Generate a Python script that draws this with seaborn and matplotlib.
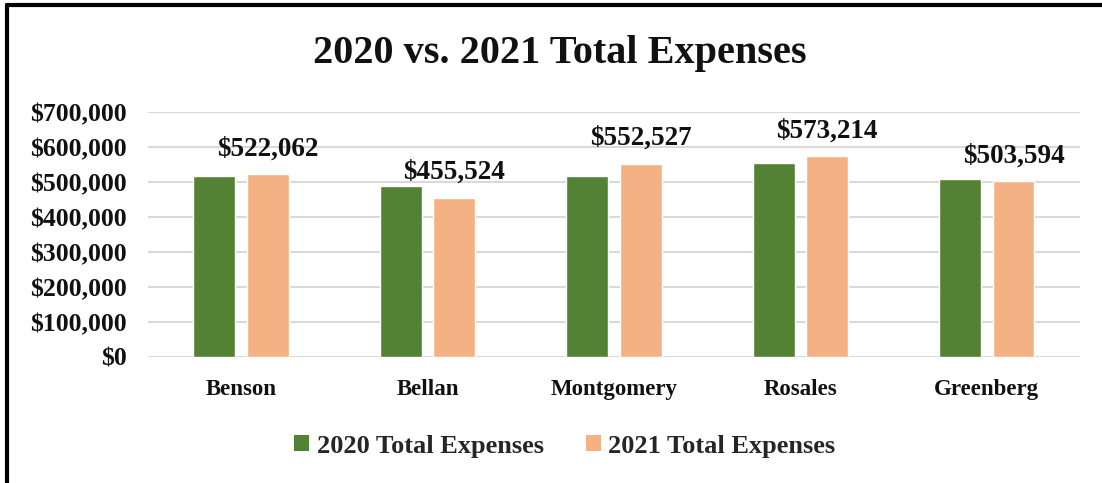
import pandas as pd
import matplotlib.pyplot as plt
import matplotlib.ticker as mticker
from matplotlib.patches import Patch
from matplotlib.lines import Line2D
import seaborn as sns

# Data
names = ['Benson', 'Bellan', 'Montgomery', 'Rosales', 'Greenberg']
expenses_2020 = [517000, 489000, 517000, 553000, 508000]
expenses_2021 = [522062, 455524, 552527, 573214, 503594]
series = ['2020 Total Expenses', '2021 Total Expenses']
colors = {'2020 Total Expenses': '#548235', '2021 Total Expenses': '#F4B183'}

df = pd.DataFrame({
    'Name': names * 2,
    'Expenses': expenses_2020 + expenses_2021,
    'Series': [series[0]] * len(names) + [series[1]] * len(names),
})

sns.set_theme(style='white')
plt.rcParams['font.family'] = ['Liberation Serif', 'DejaVu Serif']
plt.rcParams['font.weight'] = 'bold'

fig = plt.figure(figsize=(11.02, 4.83), dpi=100)
ax = fig.add_axes([0.1343, 0.2609, 0.8457, 0.5072])

sns.barplot(data=df, x='Name', y='Expenses', hue='Series', hue_order=series,
            palette=colors, width=0.574, gap=0.216, errorbar=None,
            saturation=1, legend=False, ax=ax)

# labels only on the 2021 series
ax.bar_label(ax.containers[1], labels=[f'${v:,.0f}' for v in expenses_2021],
             padding=9, fontsize=19.5, fontweight='bold', color='#111111')

ax.set_ylim(0, 700000)
ax.set_xlim(-0.5, len(names) - 0.5)
ax.yaxis.set_major_locator(mticker.MultipleLocator(100000))
ax.yaxis.set_major_formatter(mticker.StrMethodFormatter('${x:,.0f}'))
ax.grid(axis='y', color='#D9D9D9', linewidth=1.5)
ax.set_axisbelow(True)
for s in ax.spines.values():
    s.set_visible(False)
ax.tick_params(axis='y', length=0, pad=15, labelsize=18.5, labelcolor='#111111')
ax.tick_params(axis='x', length=0, pad=16, labelsize=16.5, labelcolor='#111111')
for t in ax.get_xticklabels() + ax.get_yticklabels():
    t.set_fontweight('bold')
ax.set_xlabel('')
ax.set_ylabel('')

fig.text(560 / 1102, 1 - 54 / 483, '2020 vs. 2021 Total Expenses',
         ha='center', va='center', fontsize=29, fontweight='bold', color='#111111')

handles = [Patch(facecolor=colors[s], edgecolor='none', label=s) for s in series]
fig.legend(handles=handles, loc='center', bbox_to_anchor=(565 / 1102, 1 - 446 / 483),
           ncol=2, frameon=False, handlelength=0.55, handleheight=0.55,
           handletextpad=0.3, columnspacing=1.6,
           prop={'weight': 'bold', 'size': 19})

# chart frame: top and left edges
fig.add_artist(Line2D([7 / 1102, 1], [1 - 5 / 483, 1 - 5 / 483], color='black', linewidth=3))
fig.add_artist(Line2D([7 / 1102, 7 / 1102], [0, 1 - 5 / 483], color='black', linewidth=3))

fig.savefig('out.png', dpi=100, facecolor='white')
